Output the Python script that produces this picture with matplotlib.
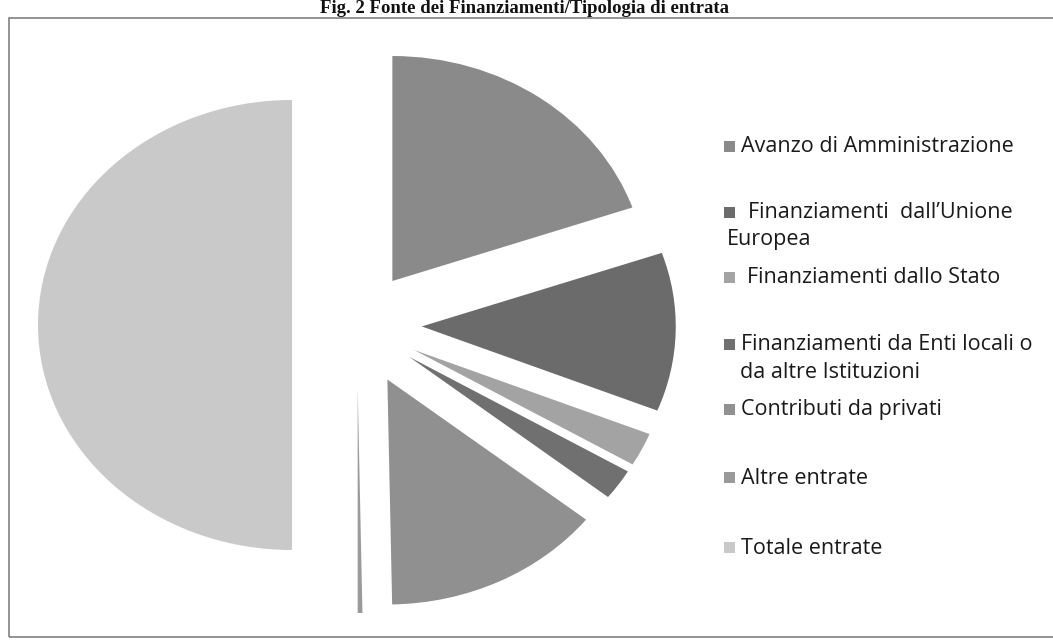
import matplotlib
matplotlib.use('Agg')
import matplotlib.pyplot as plt
from matplotlib.patches import Rectangle

# data (percent of the whole pie)
labels = ['Avanzo di Amministrazione',
          'Finanziamenti  dall\u2019Unione\nEuropea',
          'Finanziamenti dallo Stato',
          'Finanziamenti da Enti locali o\nda altre Istituzioni',
          'Contributi da privati',
          'Altre entrate',
          'Totale entrate']
values = [19.7, 11.4, 2.4, 2.2, 14.0, 0.3, 50.0]
colors = ['#8a8a8a', '#6b6b6b', '#a3a3a3', '#707070', '#909090', '#9a9a9a', '#c9c9c9']
explode = [0.24, 0.255, 0.25, 0.25, 0.27, 0.28, 0.256]

W, H = 1053, 641
fig = plt.figure(figsize=(W / 100, H / 100), dpi=100)
ax = fig.add_axes([0, 0, 1, 1])

ax.pie(values, colors=colors, explode=explode, startangle=90, counterclock=False,
       wedgeprops=dict(linewidth=0))

# the scan is slightly stretched horizontally: 1 unit = 254 px wide, 225 px high
cx, cy, rx, ry = 357, 325, 254, 225
ax.set_aspect('auto')
ax.set_xlim(-cx / rx, (W - cx) / rx)
ax.set_ylim((cy - H) / ry, cy / ry)
ax.axis('off')

# frame of the scanned figure
fig.patches.append(Rectangle((9 / W, 1 - 637 / H), 1.2, (637 - 18) / H,
                             transform=fig.transFigure, fill=False,
                             edgecolor='#808080', linewidth=1.2))

# title
fig.text(525 / W, 1 - 13 / H, 'Fig. 2 Fonte dei Finanziamenti/Tipologia di entrata',
         ha='center', va='baseline', fontsize=13.5, fontweight='bold',
         family='Liberation Serif', color='#111111')

# legend
leg_y = [147, 213, 278, 345, 410, 478, 548]
text_x = [741, 748, 747, 741, 741, 741, 741]
fs = 15.5
for lab, col, y, tx in zip(labels, colors, leg_y, text_x):
    fig.patches.append(Rectangle((724 / W, 1 - (y + 5) / H), 11 / W, 11 / H,
                                 transform=fig.transFigure, color=col, linewidth=0))
    lines = lab.split('\n')
    fig.text(tx / W, 1 - y / H, lines[0], ha='left', va='center',
             fontsize=fs, family='Open Sans', color='#1a1a1a')
    if len(lines) > 1:
        x2 = 727 if 'Europea' in lines[1] else 740
        fig.text(x2 / W, 1 - (y + 27) / H, lines[1], ha='left', va='center',
                 fontsize=fs, family='Open Sans', color='#1a1a1a')

fig.savefig('out.png', dpi=100)
